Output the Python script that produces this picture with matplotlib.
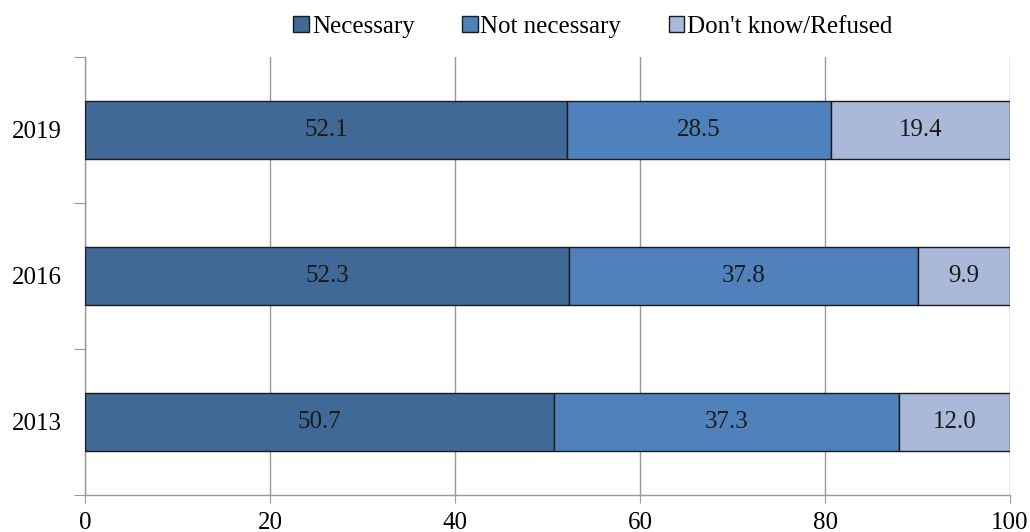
import numpy as np
import matplotlib.pyplot as plt
from matplotlib.ticker import FixedLocator

years = ["2013", "2016", "2019"]
series_names = ["Necessary", "Not necessary", "Don't know/Refused"]
necessary = [50.7, 52.3, 52.1]
not_necessary = [37.3, 37.8, 28.5]
dont_know = [12.0, 9.9, 19.4]
x_ticks = [0, 20, 40, 60, 80, 100]

colors = ["#416998", "#4F81BD", "#AAB9D9"]

plt.rcParams["font.family"] = ["Liberation Serif", "DejaVu Serif"]
plt.rcParams["font.size"] = 18

fig = plt.figure(figsize=(10.3, 5.32), dpi=100)
ax = fig.add_axes([85 / 1030, 37 / 532, 925 / 1030, 438 / 532])

ypos = np.arange(len(years))
left = np.zeros(len(years))
handles = []
for name, vals, color in zip(series_names, [necessary, not_necessary, dont_know], colors):
    vals = np.array(vals)
    bars = ax.barh(ypos, vals, left=left, height=0.40, color=color,
                   edgecolor="#1a1a1a", linewidth=1.0, label=name, zorder=3)
    for y, l, v in zip(ypos, left, vals):
        ax.text(l + v / 2, y, f"{v:.1f}", ha="center", va="center",
                fontsize=18, color="#1a1a1a", zorder=4)
    left += vals
    handles.append(bars)

ax.set_xlim(0, 100)
ax.set_ylim(-0.5, len(years) - 0.5)
ax.set_xticks(x_ticks)
ax.xaxis.grid(True, color="#999999", linewidth=1.0, zorder=0)
ax.tick_params(axis="x", length=6, color="#999999", labelsize=18, pad=6)

# boundary ticks on the y axis, labels in between
ax.yaxis.set_major_locator(FixedLocator(np.arange(-0.5, len(years), 1.0)))
ax.set_yticklabels([])
ax.yaxis.set_minor_locator(FixedLocator(ypos))
ax.set_yticks(ypos, years, minor=True)
ax.tick_params(axis="y", which="major", length=8, color="#999999")
ax.tick_params(axis="y", which="minor", length=0, pad=17, labelsize=18)

for side in ["top", "right"]:
    ax.spines[side].set_visible(False)
for side in ["left", "bottom"]:
    ax.spines[side].set_color("#999999")
    ax.spines[side].set_linewidth(1.0)

fig.legend(handles=handles, labels=series_names, loc="center",
           bbox_to_anchor=(593 / 1030, 1 - 27 / 532), ncol=3, frameon=False,
           fontsize=18, handlelength=0.62, handleheight=0.62,
           handletextpad=0.12, columnspacing=1.9)

fig.savefig("out.png", dpi=100)
